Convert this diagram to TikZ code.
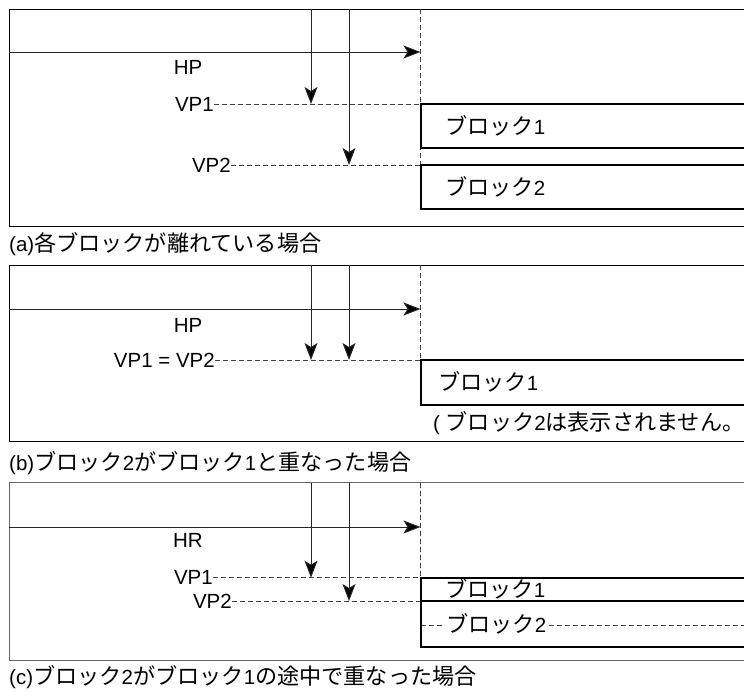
\documentclass[tikz,border=0pt]{standalone}
\usepackage{fontspec}
\setmainfont{Liberation Sans}
\newfontfamily\jpfont[Scale=1.08]{Noto Sans CJK JP}
\usetikzlibrary{arrows.meta}
\usetikzlibrary{positioning}

\newcommand{\jp}[1]{{\jpfont #1}}

\begin{document}
\begin{tikzpicture}[x=1pt,y=-1pt,
  every node/.style={font=\fontsize{20.5}{24}\selectfont, inner sep=0pt},
  frame/.style={draw=black, line width=1pt},
  guide/.style={draw=black!75, dash pattern=on 5pt off 3pt, line width=0.8pt},
  pointer/.style={draw=black!85, line width=1pt, -{Stealth[length=17pt,width=13pt,inset=4pt,fill=black]}},
  block/.style={draw=black, line width=2pt},
  ]

\useasboundingbox (0,0) rectangle (744,691);
\clip (0,0) rectangle (744,691);

%---------------------------------------
% Shared positions
%---------------------------------------
\def\Xl{9}       % left edge of frames
\def\Xr{760}     % frames and blocks run off the right edge
\def\Xb{420.5}   % left edge of blocks
\def\Xa{311}     % VP1 arrow
\def\Xc{349}     % VP2 arrow
\def\Xt{445}     % block labels

%====================================================
% (a) blocks apart
%====================================================
\begin{scope}[shift={(0,9)}]
  \draw[frame] (\Xr,0) -| (\Xl,217) -- (\Xr,217);

  \coordinate (a-hp0) at (\Xl,43);
  \coordinate (a-hp1) at (\Xb,43);
  \coordinate (a-top) at (\Xb,0);
  \coordinate (a-p1) at (\Xa,0);
  \coordinate (a-p2) at (\Xc,0);
  \coordinate (a-b1) at (\Xb,95);
  \coordinate (a-b2) at (\Xb,156);

  \node (a-hp) at (188,58) {HP};
  \node[anchor=east] (a-vp1) at (214,95) {VP1};
  \node[anchor=east] (a-vp2) at (231,156) {VP2};

  % guides
  \draw[guide] (a-vp1.east) -- (a-b1);
  \draw[guide] (a-vp2.east) -- (a-b2);
  \draw[guide] (a-top) -- (a-b2);

  % pointers
  \draw[pointer] (a-hp0) -- (a-hp1);
  \draw[pointer] (a-p1) -- (a-p1 |- a-b1);
  \draw[pointer] (a-p2) -- (a-p2 |- a-b2);

  % blocks
  \draw[block] (a-b1) rectangle (\Xr,139);
  \draw[block] (a-b2) rectangle (\Xr,200);
  \node[anchor=west] (a-blk1) at (\Xt,117) {\jp{ブロック}1};
  \node[anchor=west] (a-blk2) at (\Xt,178) {\jp{ブロック}2};

  \node[anchor=west] (a-cap) at (\Xl,235) {(a)\jp{各ブロックが離れている場合}};
\end{scope}

%====================================================
% (b) block 2 on block 1
%====================================================
\begin{scope}[shift={(0,265)}]
  \draw[frame] (\Xr,0) -| (\Xl,176.7) -- (\Xr,176.7);

  \coordinate (b-hp0) at (\Xl,44);
  \coordinate (b-hp1) at (\Xb,44);
  \coordinate (b-top) at (\Xb,0);
  \coordinate (b-p1) at (\Xa,0);
  \coordinate (b-p2) at (\Xc,0);
  \coordinate (b-b1) at (\Xb,95);

  \node (b-hp) at (188,60) {HP};
  \node[anchor=east] (b-vp) at (215,95) {VP1 = VP2};

  % guides
  \draw[guide] (b-vp.east) -- (b-b1);
  \draw[guide] (b-top) -- (b-b1);

  % pointers
  \draw[pointer] (b-hp0) -- (b-hp1);
  \draw[pointer] (b-p1) -- (b-p1 |- b-b1);
  \draw[pointer] (b-p2) -- (b-p2 |- b-b1);

  % block
  \draw[block] (b-b1) rectangle (\Xr,140);
  \node[anchor=west] (b-blk1) at (438,117) {\jp{ブロック}1};
  \node[anchor=west] (b-note) at (433,158) {( \jp{ブロック}2\jp{は表示されません。}};

  \node[anchor=west] (b-cap) at (\Xl,198) {(b)\jp{ブロック}2\jp{がブロック}1\jp{と重なった場合}};
\end{scope}

%====================================================
% (c) block 2 part way into block 1
%====================================================
\begin{scope}[shift={(0,482.7)}]
  \draw[frame, draw=black!60] (\Xr,0) -| (\Xl,177.3) -- (\Xr,177.3);

  \coordinate (c-hp0) at (\Xl,44.3);
  \coordinate (c-hp1) at (\Xb,44.3);
  \coordinate (c-top) at (\Xb,0);
  \coordinate (c-p1) at (\Xa,0);
  \coordinate (c-p2) at (\Xc,0);
  \coordinate (c-b1) at (\Xb,95);
  \coordinate (c-b2) at (\Xb,118.3);
  \coordinate (c-mid) at (\Xb,142.3);
  \coordinate (c-end) at (\Xr,142.3);

  \node (c-hr) at (188,58) {HR};
  \node[anchor=east] (c-vp1) at (213,95) {VP1};
  \node[anchor=east] (c-vp2) at (232,118.3) {VP2};

  % guides
  \draw[guide] (c-vp1.east) -- (c-b1);
  \draw[guide] (c-vp2.east) -- (c-b2);
  \draw[guide] (c-top) -- (c-b1);
  \draw[guide] (c-mid) -- (c-end);

  % pointers
  \draw[pointer] (c-hp0) -- (c-hp1);
  \draw[pointer] (c-p1) -- (c-p1 |- c-b1);
  \draw[pointer] (c-p2) -- (c-p2 |- c-b2);

  % blocks
  \draw[block] (c-b1) rectangle (\Xr,164);
  \draw[block] (c-b2) -- (\Xr,118.3);
  \node[anchor=west] (c-blk1) at (\Xt,106) {\jp{ブロック}1};
  \node[anchor=west, fill=white, inner xsep=1pt] (c-blk2) at (\Xt,141) {\jp{ブロック}2};

  \node[anchor=west] (c-cap) at (\Xl,194.3) {(c)\jp{ブロック}2\jp{がブロック}1\jp{の途中で重なった場合}};
\end{scope}

\end{tikzpicture}
\end{document}
